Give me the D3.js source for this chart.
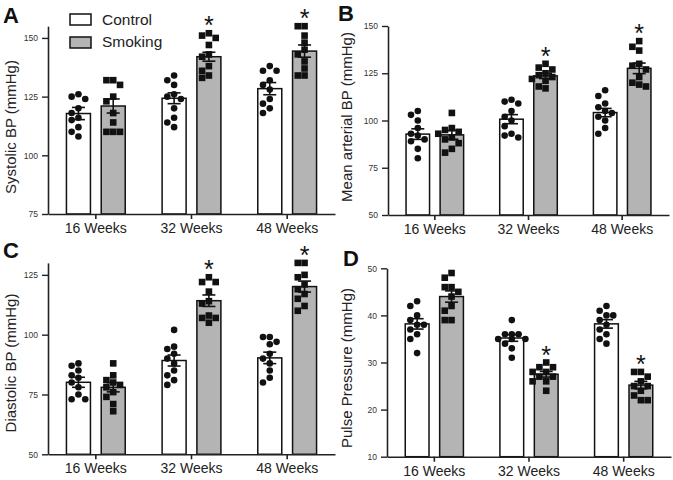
<!DOCTYPE html>
<html><head><meta charset="utf-8">
<script src="https://cdn.jsdelivr.net/npm/d3@7"></script>
<style>body{margin:0;background:#fff}svg{display:block;font-family:Arial,"Liberation Sans",sans-serif}</style>
</head><body><svg id="c" width="673" height="480"></svg>
<script>
const groups = ["16 Weeks", "32 Weeks", "48 Weeks"];
const seriesNames = ["Control", "Smoking"];

// A: Systolic BP
const sbpControlMean = [117.8, 124.3, 128.4];
const sbpSmokingMean = [121.0, 142.0, 144.4];
const sbpControlSem = [2.6, 2.3, 2.6];
const sbpSmokingSem = [3.0, 1.9, 2.6];
const sbpControlPts = [[126,125,124,120,118,116,115,112,110,108],[134,132,130,126,125,124,120,116,114,112],[138,136,136,132,130,128,124,122,120,118]];
const sbpSmokingPts = [[132,132,130,125,123,118,114,110,110,110],[152,151,150,147,143,142,138,136,134,133],[155,155,151,148,145,143,140,137,134,134]];
const sbpTicks = [75, 100, 125, 150];
const sbpStar = [false, true, true];

// B: Mean arterial BP
const mapControlMean = [92.8, 100.7, 104.2];
const mapSmokingMean = [92.4, 123.6, 127.6];
const mapControlSem = [2.8, 2.4, 2.2];
const mapSmokingSem = [2.3, 1.4, 2.8];
const mapControlPts = [[105,103,100,96,93,92,90,89,85,80],[111,110,109,105,102,100,97,93,92,91],[116,113,109,107,105,104,102,100,96,93]];
const mapSmokingPts = [[104,96,95,94,93,91,90,88,85,83],[130,128,127,125,124,123,122,121,118,117],[142,139,137,130,129,127,123,120,119,118]];
const mapTicks = [50, 75, 100, 125, 150];
const mapStar = [false, true, true];

// C: Diastolic BP
const dbpControlMean = [80.1, 89.2, 90.3];
const dbpSmokingMean = [78.0, 114.2, 120.1];
const dbpControlSem = [2.1, 2.3, 2.4];
const dbpSmokingSem = [1.9, 2.4, 2.3];
const dbpControlPts = [[88,87,85,83,82,80,78,75,73,73],[102,95,94,92,90,88,85,83,81,79],[99,99,97,96,92,90,88,85,82,80]];
const dbpSmokingPts = [[88,83,81,80,79,78,76,74,71,68],[124,122,122,118,114,113,108,107,107,105],[130,130,125,124,121,119,117,115,112,110]];
const dbpTicks = [50, 75, 100, 125];
const dbpStar = [false, true, true];

// D: Pulse pressure
const ppControlMean = [38.2, 35.2, 38.2];
const ppSmokingMean = [44.0, 27.5, 25.2];
const ppControlSem = [1.1, 0.7, 0.9];
const ppSmokingSem = [1.2, 0.6, 0.8];
const ppControlPts = [[43,42,40,39,38,38,37,36,35,32],[39,36,36,36,35,35,35,34,33,31],[42,41,40,40,39,38,37,36,35,34]];
const ppSmokingPts = [[49,48,46,46,45,44,42,41,39,39],[30,29,29,28,28,27,27,26,26,24],[28,28,27,26,25,25,24,23,22,22]];
const ppTicks = [10, 20, 30, 40, 50];
const ppStar = [false, true, true];

const svg = d3.select("#c");
const fills = {Control: "#ffffff", Smoking: "#b4b4b4"};
const axisColor = "#222";

function panel(cfg) {
  const g = svg.append("g");
  const x0 = d3.scaleBand().domain(groups).range([cfg.x0, cfg.x1]).padding(0);
  const x1 = d3.scaleBand().domain(seriesNames).range([0, x0.bandwidth()]).paddingInner(0.31).paddingOuter(0.53);
  const y = d3.scaleLinear().domain(cfg.domain).range([cfg.yb, cfg.yt]);

  const data = [];
  groups.forEach((grp, i) => {
    data.push({grp, s: "Control", mean: cfg.cMean[i], sem: cfg.cSem[i], pts: cfg.cPts[i]});
    data.push({grp, s: "Smoking", mean: cfg.sMean[i], sem: cfg.sSem[i], pts: cfg.sPts[i], star: cfg.star[i]});
  });

  g.selectAll("rect.bar").data(data).enter().append("rect")
    .attr("x", d => x0(d.grp) + x1(d.s))
    .attr("width", x1.bandwidth())
    .attr("y", d => y(d.mean))
    .attr("height", d => y(cfg.domain[0]) - y(d.mean))
    .attr("fill", d => fills[d.s]).attr("stroke", "#111").attr("stroke-width", 1.5);

  const r = 3.3, step = 6.8;
  data.forEach(d => {
    const cx = x0(d.grp) + x1(d.s) + x1.bandwidth() / 2;
    const placed = [];
    const sorted = d.pts.slice().sort((a, b) => b - a);
    sorted.forEach(v => {
      const py = y(v);
      const cands = [0, -step, step, -2 * step, 2 * step, -1.5 * step, 1.5 * step];
      let off = 0;
      for (const c of cands) {
        if (placed.every(p => Math.hypot(p.x - c, p.y - py) >= step * 0.98)) { off = c; break; }
      }
      placed.push({x: off, y: py, v});
    });
    placed.forEach(p => {
      if (d.s === "Control") {
        g.append("circle").attr("cx", cx + p.x).attr("cy", p.y).attr("r", r).attr("fill", "#111");
      } else {
        g.append("rect").attr("x", cx + p.x - r).attr("y", p.y - r).attr("width", 2 * r).attr("height", 2 * r).attr("fill", "#111");
      }
    });
    const top = y(d.mean + d.sem), bot = y(d.mean - d.sem), cw = 6.5;
    g.append("line").attr("x1", cx).attr("x2", cx).attr("y1", top).attr("y2", bot).attr("stroke", "#111").attr("stroke-width", 1.6);
    [top, bot].forEach(yy => g.append("line").attr("x1", cx - cw).attr("x2", cx + cw).attr("y1", yy).attr("y2", yy).attr("stroke", "#111").attr("stroke-width", 1.6));
    if (d.star) {
      const ys = y(d3.max(d.pts)) - 13;
      g.append("text").attr("x", cx).attr("y", ys + 14).attr("text-anchor", "middle").attr("font-size", 25).attr("fill", "#111").text("*");
    }
  });

  const ya = g.append("g").attr("transform", `translate(${cfg.x0},0)`)
    .call(d3.axisLeft(y).tickValues(cfg.ticks).tickSize(6).tickPadding(4).tickSizeOuter(0));
  ya.select(".domain").attr("stroke", axisColor).attr("stroke-width", 1.6);
  ya.selectAll(".tick line").attr("stroke", axisColor).attr("stroke-width", 1.4);
  ya.selectAll(".tick text").attr("font-size", 8.5).attr("fill", "#333").attr("font-family", "Arial, 'Liberation Sans', sans-serif");

  const xa = g.append("g").attr("transform", `translate(0,${cfg.yb})`)
    .call(d3.axisBottom(x0).tickSize(5).tickPadding(4).tickSizeOuter(0));
  xa.select(".domain").attr("stroke", axisColor).attr("stroke-width", 1.6);
  xa.selectAll(".tick line").attr("stroke", axisColor).attr("stroke-width", 1.6);
  xa.selectAll(".tick text").attr("font-size", 14).attr("fill", "#222").attr("font-family", "Arial, 'Liberation Sans', sans-serif");

  g.append("text").attr("transform", `translate(${cfg.titleX},${cfg.titleY}) rotate(-90)`)
    .attr("text-anchor", "middle").attr("font-size", 15).attr("fill", "#222").text(cfg.title);
  g.append("text").attr("x", cfg.lx).attr("y", cfg.ly).attr("font-size", 22).attr("font-weight", "bold").attr("fill", "#111").text(cfg.letter);
}

panel({x0: 48, x1: 335, yb: 214, yt: 26.2, domain: [75, 155], ticks: sbpTicks,
  cMean: sbpControlMean, sMean: sbpSmokingMean, cSem: sbpControlSem, sSem: sbpSmokingSem, cPts: sbpControlPts, sPts: sbpSmokingPts, star: sbpStar,
  title: "Systolic BP (mmHg)", titleX: 16, titleY: 127, letter: "A", lx: 3, ly: 23});
panel({x0: 388, x1: 669, yb: 215, yt: 26, domain: [50, 150], ticks: mapTicks,
  cMean: mapControlMean, sMean: mapSmokingMean, cSem: mapControlSem, sSem: mapSmokingSem, cPts: mapControlPts, sPts: mapSmokingPts, star: mapStar,
  title: "Mean arterial BP (mmHg)", titleX: 352, titleY: 117, letter: "B", lx: 338, ly: 21});
panel({x0: 48, x1: 335, yb: 454.3, yt: 262.9, domain: [50, 130], ticks: dbpTicks,
  cMean: dbpControlMean, sMean: dbpSmokingMean, cSem: dbpControlSem, sSem: dbpSmokingSem, cPts: dbpControlPts, sPts: dbpSmokingPts, star: dbpStar,
  title: "Diastolic BP (mmHg)", titleX: 16, titleY: 363, letter: "C", lx: 3, ly: 258});
panel({x0: 387, x1: 671, yb: 456.7, yt: 268.3, domain: [10, 50], ticks: ppTicks,
  cMean: ppControlMean, sMean: ppSmokingMean, cSem: ppControlSem, sSem: ppSmokingSem, cPts: ppControlPts, sPts: ppSmokingPts, star: ppStar,
  title: "Pulse Pressure (mmHg)", titleX: 352, titleY: 368, letter: "D", lx: 343, ly: 266});

const leg = svg.append("g");
seriesNames.forEach((s, i) => {
  leg.append("rect").attr("x", 70).attr("y", 14 + i * 23).attr("width", 21).attr("height", 11)
    .attr("fill", fills[s]).attr("stroke", "#111").attr("stroke-width", 1.5);
  leg.append("text").attr("x", 102).attr("y", 25 + i * 22).attr("font-size", 15.5).attr("fill", "#222").text(s);
});
</script></body></html>
